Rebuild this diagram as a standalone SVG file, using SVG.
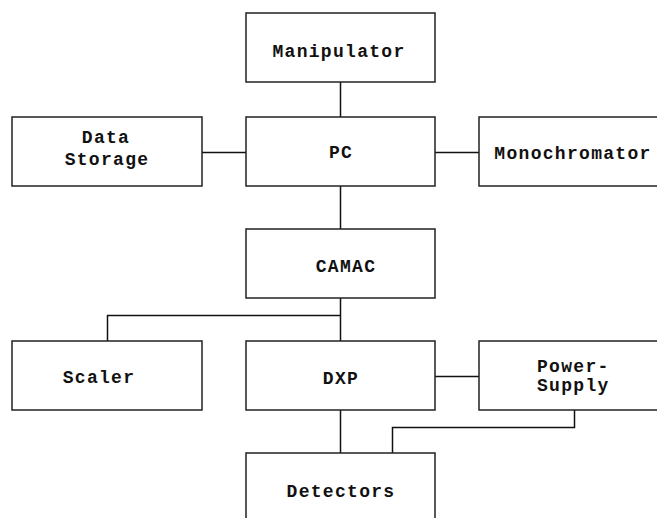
<svg xmlns="http://www.w3.org/2000/svg" width="657" height="518" viewBox="0 0 657 518">
  <style>
    .box { fill: #fff; stroke: #222; stroke-width: 1.5; }
    .wire { fill: none; stroke: #111; stroke-width: 1.5; }
    .lbl { font-family: "Liberation Mono", "Courier New", monospace; font-weight: bold; font-size: 18px; letter-spacing: 1.3px; fill: #111; }
    .c { text-anchor: middle; }
  </style>
  <rect width="657" height="518" fill="#fff"/>
  <g id="connectors">
    <line class="wire" x1="340.5" y1="82" x2="340.5" y2="117"/>
    <line class="wire" x1="202" y1="152.5" x2="246" y2="152.5"/>
    <line class="wire" x1="435" y1="152.5" x2="479" y2="152.5"/>
    <line class="wire" x1="340.5" y1="186" x2="340.5" y2="229"/>
    <line class="wire" x1="340.5" y1="298" x2="340.5" y2="341"/>
    <polyline class="wire" points="340.5,315.5 107.5,315.5 107.5,341"/>
    <line class="wire" x1="435" y1="376.5" x2="479" y2="376.5"/>
    <line class="wire" x1="340.5" y1="410" x2="340.5" y2="453"/>
    <polyline class="wire" points="574.5,410 574.5,427.5 392.5,427.5 392.5,453"/>
  </g>
  <g id="manipulator">
    <rect class="box" x="246" y="13" width="189" height="69"/>
    <text class="lbl c" x="339" y="57">Manipulator</text>
  </g>
  <g id="data-storage">
    <rect class="box" x="12" y="117" width="190" height="69"/>
    <text class="lbl c" x="106" y="143">Data</text>
    <text class="lbl c" x="107" y="165">Storage</text>
  </g>
  <g id="pc">
    <rect class="box" x="246" y="117" width="189" height="69"/>
    <text class="lbl c" x="341" y="158">PC</text>
  </g>
  <g id="monochromator">
    <rect class="box" x="479" y="117" width="190" height="69"/>
    <text class="lbl c" x="573" y="159">Monochromator</text>
  </g>
  <g id="camac">
    <rect class="box" x="246" y="229" width="189" height="69"/>
    <text class="lbl c" x="346" y="272">CAMAC</text>
  </g>
  <g id="scaler">
    <rect class="box" x="12" y="341" width="190" height="69"/>
    <text class="lbl c" x="99" y="383">Scaler</text>
  </g>
  <g id="dxp">
    <rect class="box" x="246" y="341" width="189" height="69"/>
    <text class="lbl c" x="341" y="384">DXP</text>
  </g>
  <g id="power-supply">
    <rect class="box" x="479" y="341" width="190" height="69"/>
    <text class="lbl" x="537" y="372">Power-</text>
    <text class="lbl" x="537" y="391">Supply</text>
  </g>
  <g id="detectors">
    <rect class="box" x="246" y="453" width="189" height="80"/>
    <text class="lbl c" x="341" y="497">Detectors</text>
  </g>
</svg>
